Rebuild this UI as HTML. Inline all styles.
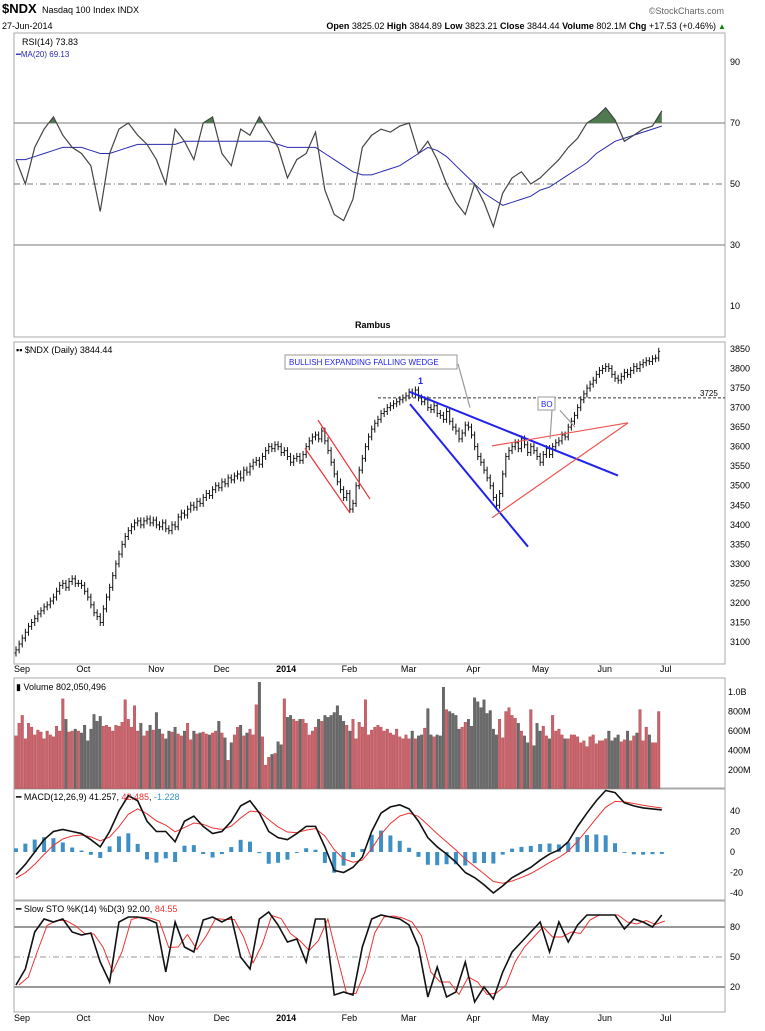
<!DOCTYPE html>
<html><head><meta charset="utf-8">
<style>
body{margin:0;background:#fff;width:765px;height:1026px;overflow:hidden;font-family:"Liberation Sans",sans-serif}
svg text{font-family:"Liberation Sans",sans-serif}
</style></head>
<body>
<svg id="c" width="765" height="1026" xmlns="http://www.w3.org/2000/svg">
<text x="2" y="13" font-size="13" font-weight="bold">$NDX</text>
<text x="42" y="13" font-size="9">Nasdaq 100 Index INDX</text>
<text x="2" y="29" font-size="9">27-Jun-2014</text>
<text x="724" y="14" font-size="9" fill="#666" text-anchor="end">©StockCharts.com</text>
<text x="716" y="29" font-size="9" text-anchor="end"><tspan font-weight="bold">Open</tspan> 3825.02 <tspan font-weight="bold">High</tspan> 3844.89 <tspan font-weight="bold">Low</tspan> 3823.21 <tspan font-weight="bold">Close</tspan> 3844.44 <tspan font-weight="bold">Volume</tspan> 802.1M <tspan font-weight="bold">Chg</tspan> +17.53 (+0.46%)</text>
<text x="718" y="29" font-size="8" fill="#080">▲</text>
<g id="g"></g>
</svg>
<script>
const closes=[3080,3095,3110,3125,3140,3150,3160,3172,3180,3190,
3195,3205,3215,3230,3245,3250,3240,3255,3262,3250,
3250,3245,3230,3215,3195,3175,3165,3150,3185,3215,
3240,3270,3300,3325,3350,3370,3385,3395,3405,3410,
3400,3410,3415,3405,3412,3400,3395,3405,3390,3385,
3400,3395,3420,3430,3425,3440,3450,3445,3460,3455,
3470,3480,3475,3490,3500,3495,3510,3505,3520,3515,
3525,3530,3520,3540,3535,3550,3560,3565,3555,3575,
3590,3600,3595,3605,3600,3585,3590,3575,3560,3570,
3575,3565,3580,3600,3615,3625,3630,3620,3640,3615,
3590,3560,3530,3510,3490,3470,3480,3440,3455,3500,
3540,3570,3600,3625,3645,3660,3670,3685,3690,3700,
3705,3710,3715,3720,3725,3730,3740,3735,3745,3725,
3715,3720,3700,3695,3705,3685,3680,3670,3690,3665,
3650,3640,3620,3635,3655,3650,3630,3600,3575,3560,
3540,3520,3500,3470,3450,3480,3530,3575,3590,3600,
3610,3595,3620,3605,3585,3600,3590,3575,3560,3580,
3595,3580,3600,3610,3615,3630,3625,3650,3665,3680,
3700,3720,3735,3750,3760,3770,3785,3795,3800,3805,
3800,3785,3775,3770,3780,3790,3785,3795,3805,3800,
3810,3815,3820,3818,3825,3827,3844];
const volumes=[550,680,760,520,680,640,560,610,590,520,
600,560,540,650,600,930,720,590,600,620,
600,580,660,500,620,770,700,750,650,660,
640,600,660,650,690,920,720,640,860,600,
680,550,600,660,610,790,620,570,520,600,
590,640,570,550,600,680,510,600,570,580,
590,570,560,580,600,700,580,530,300,480,
560,640,660,550,580,620,560,870,1100,540,
250,330,360,370,490,460,930,740,760,720,
700,720,720,680,560,600,640,720,700,760,
740,760,790,860,760,700,660,600,720,520,
690,640,920,560,610,640,660,640,600,620,
580,560,620,540,520,560,520,600,520,550,
560,630,830,560,540,560,550,1050,820,800,
780,760,620,640,690,720,650,940,900,840,
920,780,810,620,560,720,530,800,840,760,
730,680,600,550,480,820,450,680,600,650,
550,520,760,600,620,560,520,520,560,560,
540,480,500,440,540,560,470,500,500,520,
600,500,530,560,490,510,600,500,550,580,820,500,640,560,480,480,800];
const rsi=[58,50,62,68,72,66,62,60,56,41,60,68,70,66,63,58,50,68,64,58,70,72,60,56,68,66,72,67,62,52,58,60,67,48,40,38,45,62,66,68,67,69,70,60,64,58,50,44,40,50,44,36,47,52,54,50,52,55,58,62,65,70,72,75,71,64,66,68,69,74];
const rsiMA=[58,58,59,60,61,62,62,62,61,60,60,61,62,63,63,63,63,63,64,64,64,64,64,64,64,64,64,64,63,62,62,62,62,60,58,56,54,53,53,54,55,56,58,60,62,61,59,56,53,50,47,45,43,44,45,46,48,49,51,53,55,57,60,62,64,65,66,67,68,69];
const macd=[-22,-12,0,12,20,22,20,18,12,5,20,40,55,50,30,20,20,10,30,35,25,18,20,30,45,50,38,20,14,12,18,25,25,5,-18,-20,-15,-5,20,38,44,46,42,30,14,5,-2,-10,-20,-25,-32,-40,-33,-25,-20,-15,-8,-2,2,10,25,38,50,60,58,48,45,43,42,41];
const stoK=[22,38,75,88,85,88,75,72,74,45,25,85,90,90,88,84,35,85,60,55,87,90,85,90,50,38,88,95,82,65,68,45,88,88,12,15,12,60,88,92,90,88,82,60,10,40,10,15,45,5,20,8,35,55,65,75,85,55,85,65,82,92,92,92,92,78,88,85,80,92];
const months=[["Sep",0],["Oct",20],["Nov",43],["Dec",64],["2014",84],["Feb",105],["Mar",124],["Apr",145],["May",166],["Jun",187],["Jul",207]];
const priceTicks=[3100,3150,3200,3250,3300,3350,3400,3450,3500,3550,3600,3650,3700,3750,3800,3850];

const NS="http://www.w3.org/2000/svg",G=document.getElementById('g');
function mk(t,a,txt){const e=document.createElementNS(NS,t);for(const k in a)e.setAttribute(k,a[k]);if(txt!==undefined)e.textContent=txt;G.appendChild(e);return e;}
const L=14,R=725;
const bx=i=>16+i*3.12;
const sx=k=>16+k*9.36;
const py=p=>349+(3850-p)*0.3907;
const vy=v=>789.5-v*0.0975;
const ry=v=>123+(70-v)*3.05;
const my=v=>852-v*1.025;
const sy=v=>957-(v-50);

[[33,337,'rsi-panel'],[342,664,'price-panel'],[678,788,'volume-panel'],[789,900,'macd-panel'],[901,1012,'sto-panel']].forEach(p=>{
 const e=mk('rect',{x:L,y:p[0],width:R-L,height:p[1]-p[0],fill:'none',stroke:'#aaa','stroke-width':1});
 
 
});
[672,1021].forEach((y,j)=>{months.forEach(m=>{
 const t=mk('text',{x:bx(m[1])-2,y:y,'font-size':9,'font-weight':m[0]==='2014'?'bold':'normal'},m[0]);
 
 
});});

[[90,''],[70,'s'],[50,'d'],[30,'s'],[10,'']].forEach(r=>{
 const t=mk('text',{x:730,y:ry(r[0])+3,'font-size':9},String(r[0]));
 
 
 if(r[1]){const l=mk('line',{x1:L,x2:R,y1:ry(r[0]),y2:ry(r[0]),stroke:'#777','stroke-width':1,'stroke-dasharray':r[1]==='d'?'6,3,1,3':'none'});
 
 }
});
mk('clipPath',{id:'ob'}).innerHTML='<rect x="0" y="0" width="765" height="'+ry(70)+'"/>';
let rp=rsi.map((v,k)=>sx(k)+','+ry(v)).join(' ');
const rf=mk('polygon',{points:sx(0)+','+ry(70)+' '+rp+' '+sx(rsi.length-1)+','+ry(70),fill:'#4f7a4f','clip-path':'url(#ob)'});


const rma=mk('polyline',{points:rsiMA.map((v,k)=>sx(k)+','+ry(v)).join(' '),fill:'none',stroke:'#2a2ab0','stroke-width':1});


const rl=mk('polyline',{points:rp,fill:'none',stroke:'#444','stroke-width':1.2});


let t;
t=mk('text',{x:22,y:45,'font-size':9,'font-family':'Liberation Mono'},'RSI(14) 73.83');
t=mk('text',{x:16,y:57,'font-size':8,fill:'#2a2ab0'},'━MA(20) 69.13');
t=mk('text',{x:355,y:328,'font-size':9,'font-weight':'bold'},'Rambus');

priceTicks.forEach(p=>{const e=mk('text',{x:730,y:py(p)+3,'font-size':9},String(p));});
closes.forEach((c,i)=>{
 const o=i?closes[i-1]:c-8,h=Math.max(o,c)+9,l=Math.min(o,c)-9,x=bx(i);
 const b=mk('path',{d:`M${x},${py(h)}V${py(l)}M${x-1.4},${py(o)}H${x}M${x},${py(c)}H${x+1.4}`,stroke:'#111','stroke-width':1,fill:'none'});
 
 
});
t=mk('text',{x:16,y:353,'font-size':9},'▪▪ $NDX (Daily) 3844.44');
function ln(x1,p1,x2,p2,col,w,name,dash){const e=mk('line',{x1:x1,y1:py(p1),x2:x2,y2:py(p2),stroke:col,'stroke-width':w,'stroke-dasharray':dash||'none'});}
ln(378,3725,725,3725,'#333',1,'support-line-3725','3,2');
t=mk('text',{x:700,y:py(3725)-2,'font-size':8},'3725');
ln(305,3596,350,3430,'#e33',1.2,'red-channel-lower');
ln(318,3668,370,3466,'#e33',1.2,'red-channel-upper');
ln(410,3740,618,3526,'#22e',2,'wedge-upper-line');
ln(410,3709,528,3344,'#22e',2,'wedge-lower-line');
ln(492,3418,628,3661,'#e55',1.2,'triangle-lower-line');
ln(492,3602,628,3661,'#e55',1.2,'triangle-upper-line');
ln(458,3812,470,3700,'#999',1.2,'wedge-callout');
ln(552,3693,550,3620,'#999',1.2,'bo-callout-left');
ln(560,3693,575,3650,'#999',1.2,'bo-callout-right');
const wb=mk('rect',{x:285,y:355,width:172,height:14,fill:'#fff',stroke:'#999'});
t=mk('text',{x:289,y:365,'font-size':8,fill:'#22e'},'BULLISH EXPANDING FALLING WEDGE');
t=mk('text',{x:418,y:384,'font-size':9,fill:'#22e','font-weight':'bold'},'1');
const bb=mk('rect',{x:538,y:397,width:17,height:13,fill:'#fff',stroke:'#999'});
t=mk('text',{x:541,y:407,'font-size':8,fill:'#22e'},'BO');

[[1000,'1.0B'],[800,'800M'],[600,'600M'],[400,'400M'],[200,'200M']].forEach(v=>{const e=mk('text',{x:728,y:vy(v[0])+3,'font-size':9},v[1]);});
volumes.forEach((v,i)=>{
 const up=i===0||closes[i]>=closes[i-1];
 const r=mk('rect',{x:bx(i)-1.3,y:vy(v),width:2.6,height:789.5-vy(v)-1,fill:up?'#c8646e':'#6a6a6a',stroke:up?'#a33':'#444','stroke-width':0.3});
 
 
});
t=mk('text',{x:16,y:690,'font-size':9},'▮ Volume 802,050,496');

[40,20,0,-20,-40].forEach(v=>{const e=mk('text',{x:730,y:my(v)+3,'font-size':9},String(v));});
const signal=[];let s=-28;macd.forEach(v=>{s=s+0.4*(v-s);signal.push(s);});
macd.forEach((v,k)=>{const h=v-signal[k];const r=mk('rect',{x:sx(k)-2,y:Math.min(my(0),my(h)),width:4,height:Math.abs(my(h)-my(0)),fill:'#3d8fc4'});
 
 });
let e2=mk('polyline',{points:signal.map((v,k)=>sx(k)+','+my(v)).join(' '),fill:'none',stroke:'#e33','stroke-width':1});

e2=mk('polyline',{points:macd.map((v,k)=>sx(k)+','+my(v)).join(' '),fill:'none',stroke:'#111','stroke-width':1.6});

t=mk('text',{x:16,y:800,'font-size':9},'');t.innerHTML='━ MACD(12,26,9) 41.257, <tspan fill="#e33">42.485</tspan>, <tspan fill="#39c">-1.228</tspan>';

[[80,'s'],[50,'d'],[20,'s']].forEach(r=>{
 const l=mk('line',{x1:L,x2:R,y1:sy(r[0]),y2:sy(r[0]),stroke:'#999','stroke-width':r[1]==='s'?2:1,'stroke-dasharray':r[1]==='d'?'6,3,1,3':'none'});
 
 const e=mk('text',{x:730,y:sy(r[0])+3,'font-size':9},String(r[0]));
});
const stoD=stoK.map((v,k)=>k?(v+stoK[k-1])/2:v);
e2=mk('polyline',{points:stoD.map((v,k)=>(sx(k)+3)+','+sy(v)).join(' '),fill:'none',stroke:'#e33','stroke-width':1});

e2=mk('polyline',{points:stoK.map((v,k)=>sx(k)+','+sy(v)).join(' '),fill:'none',stroke:'#111','stroke-width':1.6});

t=mk('text',{x:16,y:912,'font-size':9},'');t.innerHTML='━ Slow STO %K(14) %D(3) 92.00, <tspan fill="#e33">84.55</tspan>';
</script>
</body></html>
